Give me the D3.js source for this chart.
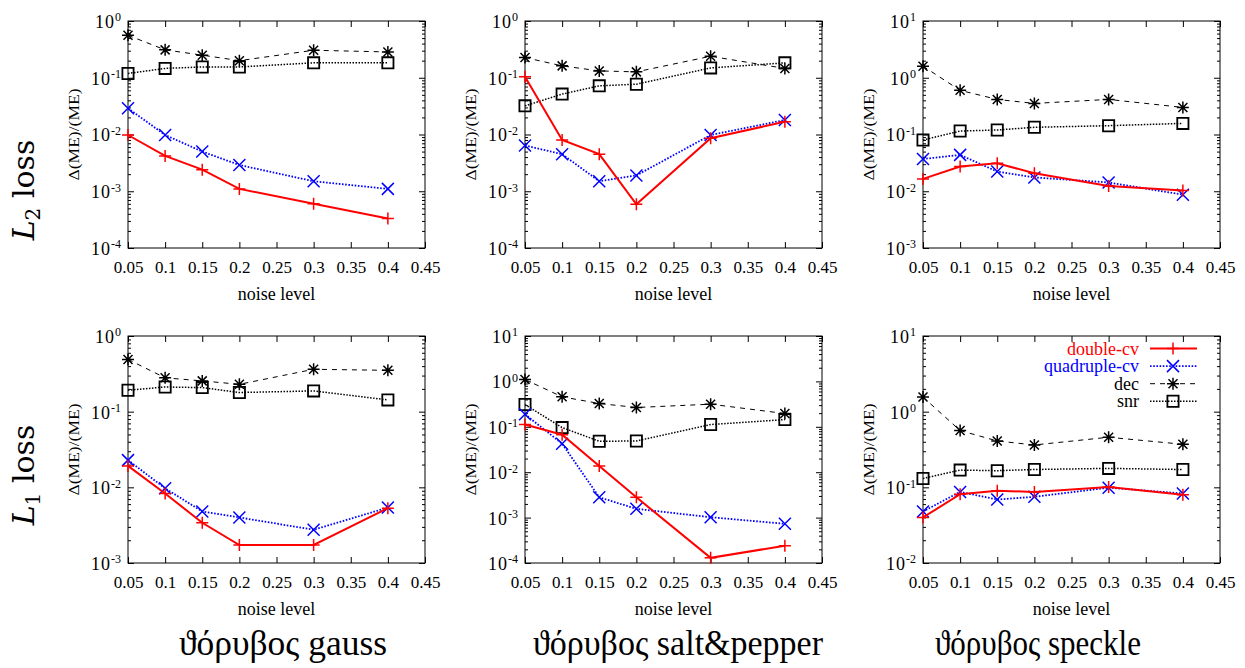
<!DOCTYPE html>
<html>
<head>
<meta charset="UTF-8">
<title>noise level</title>
<script src="https://cdn.jsdelivr.net/npm/d3@7"></script>
<style>
body{margin:0;background:#fff;}
text{font-family:"Liberation Serif","Times New Roman",serif;fill:#000;}
</style>
</head>
<body>
<svg id="chart" width="1245" height="668"></svg>
<script>
// x values and axis labels
var noiseLevels=[0.05,0.1,0.15,0.2,0.3,0.4];
var xTicks=[0.05,0.1,0.15,0.2,0.25,0.3,0.35,0.4,0.45];
var seriesNames=["double-cv","quadruple-cv","dec","snr"];
var columnTitles=["ϑόρυβος gauss","ϑόρυβος salt&pepper","ϑόρυβος speckle"];
var rowLabels=[["L","2"," loss"],["L","1"," loss"]];

// L2 loss
var gaussL2Double=[0.0098,0.0042,0.0024,0.0011,0.0006,0.00033];
var gaussL2Quad=[0.029,0.0098,0.005,0.0029,0.0015,0.0011];
var gaussL2Dec=[0.56,0.31,0.25,0.2,0.305,0.285];
var gaussL2Snr=[0.119,0.146,0.155,0.155,0.183,0.183];

var spL2Double=[0.104,0.008,0.0045,0.00059,0.0086,0.0168];
var spL2Quad=[0.0064,0.0045,0.0015,0.0019,0.0098,0.018];
var spL2Dec=[0.227,0.162,0.132,0.127,0.239,0.146];
var spL2Snr=[0.032,0.0515,0.072,0.077,0.149,0.183];

var speckleL2Double=[0.0165,0.0272,0.031,0.0208,0.0124,0.0103];
var speckleL2Quad=[0.037,0.0437,0.0222,0.0175,0.0143,0.0087];
var speckleL2Dec=[1.6,0.6,0.415,0.353,0.415,0.3];
var speckleL2Snr=[0.08,0.115,0.12,0.134,0.143,0.157];

// L1 loss
var gaussL1Double=[0.0192,0.0083,0.0034,0.00173,0.00173,0.0053];
var gaussL1Quad=[0.0229,0.0097,0.0048,0.004,0.00275,0.0054];
var gaussL1Dec=[0.49,0.28,0.255,0.23,0.363,0.352];
var gaussL1Snr=[0.192,0.212,0.208,0.179,0.188,0.143];

var spL1Double=[0.112,0.067,0.0137,0.0028,0.00013,0.00024];
var spL1Quad=[0.189,0.0425,0.0028,0.00156,0.00102,0.00073];
var spL1Dec=[1.1,0.457,0.326,0.266,0.315,0.196];
var spL1Snr=[0.309,0.096,0.048,0.0487,0.112,0.144];

var speckleL1Double=[0.04,0.081,0.09,0.087,0.101,0.08];
var speckleL1Quad=[0.048,0.087,0.069,0.075,0.099,0.083];
var speckleL1Dec=[1.56,0.563,0.41,0.363,0.459,0.371];
var speckleL1Snr=[0.131,0.169,0.166,0.172,0.178,0.172];

// decades shown on each y axis [low, high]
var yExpRanges=[[-4,0],[-4,0],[-3,1],[-3,0],[-4,1],[-2,1]];

var panels=[
  {row:0,col:0,series:[gaussL2Double,gaussL2Quad,gaussL2Dec,gaussL2Snr]},
  {row:0,col:1,series:[spL2Double,spL2Quad,spL2Dec,spL2Snr]},
  {row:0,col:2,series:[speckleL2Double,speckleL2Quad,speckleL2Dec,speckleL2Snr]},
  {row:1,col:0,series:[gaussL1Double,gaussL1Quad,gaussL1Dec,gaussL1Snr]},
  {row:1,col:1,series:[spL1Double,spL1Quad,spL1Dec,spL1Snr]},
  {row:1,col:2,series:[speckleL1Double,speckleL1Quad,speckleL1Dec,speckleL1Snr]}
];
panels.forEach(function(p,i){p.exp=yExpRanges[i];});

var styles=[
  {color:"#ff0000",width:2,dash:null,marker:"plus"},
  {color:"#0000ff",width:1.8,dash:"1.6,1.6",marker:"cross"},
  {color:"#000000",width:1,dash:"5,5",marker:"star"},
  {color:"#000000",width:1.5,dash:"1.5,1.5",marker:"square"}
];

var svg=d3.select("#chart");
var colX=[128,525,923], rowY=[21,336], pw=297, ph=227;

function markerPath(type,s){
  if(type=="plus") return "M"+(-s)+",0H"+s+"M0,"+(-s)+"V"+s;
  if(type=="cross") return "M"+(-s)+","+(-s)+"L"+s+","+s+"M"+(-s)+","+s+"L"+s+","+(-s);
  if(type=="star") return "M"+(-s)+",0H"+s+"M0,"+(-s)+"V"+s+
    "M"+(-s*0.75)+","+(-s*0.75)+"L"+(s*0.75)+","+(s*0.75)+"M"+(-s*0.75)+","+(s*0.75)+"L"+(s*0.75)+","+(-s*0.75);
  return "M"+(-s)+","+(-s)+"H"+s+"V"+s+"H"+(-s)+"Z";
}
function drawMarker(g,type,cx,cy,color){
  var s=type=="square"?5.6:6;
  g.append("path")
    .attr("transform","translate("+cx+","+cy+")")
    .attr("d",markerPath(type,s))
    .attr("fill","none")
    .attr("stroke",color)
    .attr("stroke-width",type=="square"?1.8:1.5);
}

function styleAxis(a){
  a.select(".domain").remove();
  a.attr("font-family",null).attr("font-size",null);
  a.selectAll("line").attr("stroke","#000");
}

panels.forEach(function(p){
  var g=svg.append("g").attr("transform","translate("+colX[p.col]+","+rowY[p.row]+")");
  var x=d3.scaleLinear().domain([0.05,0.45]).range([0,pw]);
  var y=d3.scaleLog().domain([Math.pow(10,p.exp[0]),Math.pow(10,p.exp[1])]).range([ph,0]);

  var majors=d3.range(p.exp[0],p.exp[1]+1).map(function(e){return Math.pow(10,e);});
  var minors=[];
  for(var e=p.exp[0];e<p.exp[1];e++){
    for(var k=2;k<10;k++) minors.push(k*Math.pow(10,e));
  }

  // bottom axis with labels, top mirror
  g.append("g").attr("transform","translate(0,"+ph+")")
    .call(d3.axisBottom(x).tickValues(xTicks).tickSize(-6).tickPadding(13)
      .tickFormat(function(d){return String(+d.toFixed(2));}))
    .call(styleAxis)
    .selectAll("text").attr("font-size",17);
  g.append("g").call(d3.axisTop(x).tickValues(xTicks).tickSize(-6).tickFormat("")).call(styleAxis);

  // left axis: majors with 10^n labels, minors
  var left=g.append("g").call(d3.axisLeft(y).tickValues(majors).tickSize(-6).tickPadding(7)
    .tickFormat(function(){return "";})).call(styleAxis);
  left.selectAll(".tick text").each(function(d){
    var t=d3.select(this).attr("font-size",18).attr("dy","0.36em");
    t.append("tspan").attr("letter-spacing",1).text("10");
    t.append("tspan").attr("font-size",12).attr("dy","-0.55em")
      .text(String(Math.round(Math.log10(d))));
  });
  g.append("g").call(d3.axisLeft(y).tickValues(minors).tickSize(-3).tickFormat("")).call(styleAxis);
  g.append("g").attr("transform","translate("+pw+",0)")
    .call(d3.axisRight(y).tickValues(majors).tickSize(-6).tickFormat("")).call(styleAxis);
  g.append("g").attr("transform","translate("+pw+",0)")
    .call(d3.axisRight(y).tickValues(minors).tickSize(-3).tickFormat("")).call(styleAxis);

  g.append("rect").attr("width",pw).attr("height",ph)
    .attr("fill","none").attr("stroke","#000").attr("stroke-width",1);

  // axis titles
  g.append("text").attr("x",pw/2).attr("y",ph+52).attr("text-anchor","middle")
    .attr("font-size",18).text("noise level");
  g.append("text").attr("transform","translate(-49,"+(ph/2)+") rotate(-90)")
    .attr("text-anchor","middle").attr("font-size",14)
    .attr("textLength",92).attr("lengthAdjust","spacingAndGlyphs")
    .text("Δ(ME)/(ME)");

  // series, drawn back to front: snr, dec, quad, double
  var line=d3.line().x(function(d,i){return x(noiseLevels[i]);}).y(function(d){return y(d);});
  [3,2,1,0].forEach(function(si){
    var st=styles[si], vals=p.series[si];
    g.append("path").datum(vals).attr("d",line)
      .attr("fill","none").attr("stroke",st.color).attr("stroke-width",st.width)
      .attr("stroke-dasharray",st.dash);
    vals.forEach(function(v,i){drawMarker(g,st.marker,x(noiseLevels[i]),y(v),st.color);});
  });

  // legend in last panel
  if(p.row==1 && p.col==2){
    seriesNames.forEach(function(name,si){
      var st=styles[si], ly=12.5+si*17.6;
      g.append("text").attr("x",pw-81).attr("y",ly+6).attr("text-anchor","end")
        .attr("font-size",18).style("fill",si<2?st.color:"#000").text(name);
      g.append("line").attr("x1",pw-70).attr("x2",pw-23).attr("y1",ly).attr("y2",ly)
        .attr("stroke",st.color).attr("stroke-width",st.width).attr("stroke-dasharray",st.dash);
      drawMarker(g,st.marker,pw-47,ly,st.color);
    });
  }
});

// row labels
rowLabels.forEach(function(r,i){
  var t=svg.append("text").attr("transform","translate(34,"+(i==0?190:475)+") rotate(-90)")
    .attr("text-anchor","middle").attr("font-size",30)
    .style("font-family","'DejaVu Serif',serif");
  t.append("tspan").attr("font-style","italic").text(r[0]);
  t.append("tspan").attr("font-size",20).attr("dy",6).text(r[1]);
  t.append("tspan").attr("dy",-6).text(r[2]);
});

// column titles
var titleX=[283,678,1038], titleW=[208,290,206];
columnTitles.forEach(function(c,i){
  svg.append("text").attr("x",titleX[i]).attr("y",655).attr("text-anchor","middle")
    .attr("font-size",35).attr("textLength",titleW[i]).attr("lengthAdjust","spacingAndGlyphs")
    .text(c);
});
</script>
</body>
</html>
